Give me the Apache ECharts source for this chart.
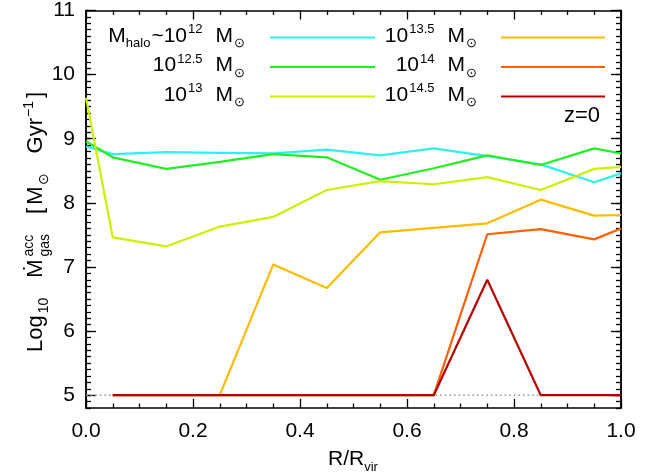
<!DOCTYPE html>
<html><head><meta charset="utf-8">
<script src="https://cdn.jsdelivr.net/npm/echarts@6/dist/echarts.min.js"></script>
<style>html,body{margin:0;padding:0;background:#fff}#c{width:660px;height:476px}</style>
</head><body><div id="c"></div>
<script>
// ---------------- data ----------------
const xValues = [0.0, 0.05, 0.15, 0.25, 0.35, 0.45, 0.55, 0.65, 0.75, 0.85, 0.95, 1.0];
const m12   = [8.88, 8.76, 8.79, 8.78, 8.77, 8.83, 8.74, 8.85, 8.73, 8.60, 8.32, 8.46];
const m12_5 = [8.96, 8.71, 8.53, 8.64, 8.76, 8.71, 8.36, 8.54, 8.74, 8.59, 8.85, 8.77];
const m13   = [9.64, 7.46, 7.32, 7.63, 7.78, 8.20, 8.34, 8.29, 8.40, 8.20, 8.53, 8.56];
const m13_5 = [null, 5, 5, 5, 7.04, 6.67, 7.54, 7.61, 7.68, 8.05, 7.80, 7.81];
const m14   = [null, 5, 5, 5, 5, 5, 5, 5, 7.51, 7.59, 7.43, 7.60];
const m14_5 = [null, 5, 5, 5, 5, 5, 5, 5, 6.80, 5, 5, 5];
const floorValue = 5;
const haloExps = ['12', '12.5', '13', '13.5', '14', '14.5'];
const seriesValues = [m12, m12_5, m13, m13_5, m14, m14_5];
const colors = ['#2ef0f0', '#22ee22', '#ccf000', '#ffbb00', '#ff6000', '#b80000'];
const xTickValues = [0, 0.2, 0.4, 0.6, 0.8, 1.0];
const yTickValues = [5, 6, 7, 8, 9, 10, 11];
const redshiftLabel = 'z=0';

// ---------------- text helpers ----------------
const FONT = '"Liberation Sans", Arial, sans-serif';
const cv = document.createElement('canvas').getContext('2d');
function tw(t, s) { cv.font = s + 'px ' + FONT; return cv.measureText(t).width; }
function richText(pieces, size, bx, by, align) {
  const ss = Math.round(size * 0.64);
  const items = []; let x = 0;
  for (const p of pieces) {
    const [t, k, t2] = p;
    if (k === 'n') { items.push({t, s: size, dx: x, b: 0}); x += tw(t, size); }
    else if (k === 'sup') { items.push({t, s: ss, dx: x, b: -0.42 * size}); x += tw(t, ss); }
    else if (k === 'sub') { items.push({t, s: ss, dx: x, b: 0.24 * size}); x += tw(t, ss); }
    else if (k === 'sp') { x += t; }
    else if (k === 'stack') {
      items.push({t, s: ss, dx: x, b: -0.45 * size});
      items.push({t: t2, s: ss, dx: x, b: 0.28 * size});
      x += Math.max(tw(t, ss), tw(t2, ss));
    }
  }
  const off = align === 'right' ? -x : align === 'center' ? -x / 2 : 0;
  return items.map(it => ({
    type: 'text', x: bx + off + it.dx, y: by + it.b - 0.31 * it.s, silent: true,
    style: {text: it.t, font: it.s + 'px ' + FONT, fill: '#000',
      align: 'left', verticalAlign: 'middle', textAlign: 'left', textVerticalAlign: 'middle'}
  }));
}

// ---------------- legend graphics ----------------
const graphics = [];
const legendRows = [37.5, 67, 96.5];
const colTextRight = [245, 477];
const colLine = [[270, 375], [501, 605]];
haloExps.forEach((e, i) => {
  const col = Math.floor(i / 3), row = i % 3;
  const y = legendRows[row];
  const pieces = [];
  if (i === 0) { pieces.push(['M', 'n'], ['halo', 'sub'], [1, 'sp'], ['~10', 'n']); }
  else pieces.push(['10', 'n']);
  pieces.push([1, 'sp'], [e, 'sup'], [13, 'sp'], ['M', 'n'], [1, 'sp'], ['\u2299', 'sub']);
  graphics.push(...richText(pieces, 21, colTextRight[col], y + 5, 'right'));
  graphics.push({type: 'line', silent: true,
    shape: {x1: colLine[col][0], y1: y, x2: colLine[col][1], y2: y},
    style: {stroke: colors[i], lineWidth: 2}});
});
// z=0
graphics.push({type: 'text', right: 60, top: 105, silent: true,
  style: {text: redshiftLabel, font: '22px ' + FONT, fill: '#000'}});
// x title
graphics.push(...richText([['R/R', 'n'], ['vir', 'sub']], 21, 353, 466, 'center'));
// y title (rotated)
graphics.push({type: 'group', x: 43, y: 222, rotation: Math.PI / 2, silent: true,
  children: richText([
    ['Log', 'n'], [2, 'sp'], ['10', 'sub'], [20, 'sp'], ['\u1E40', 'n'], [3, 'sp'], ['acc', 'stack', 'gas'], [20, 'sp'],
    ['[', 'n'], [3, 'sp'], ['M', 'n'], [1, 'sp'], ['\u2299', 'sub'], [20, 'sp'], ['Gyr', 'n'], [1, 'sp'], ['\u22121', 'sup'], [3, 'sp'], [']', 'n']
  ], 22, 0, 0, 'center')});

// ---------------- axes ----------------
const black = '#000';
const tickStyle = {color: black, width: 1.3};
function xAx(pos, labels) {
  return {type: 'value', min: 0, max: 1, interval: 0.2, position: pos,
    axisLine: {show: true, onZero: false, lineStyle: {color: black, width: 1.5}},
    axisTick: {show: true, inside: true, length: 9, lineStyle: tickStyle},
    minorTick: {show: true, splitNumber: 4, length: 4.5, lineStyle: tickStyle},
    splitLine: {show: false}, minorSplitLine: {show: false},
    axisLabel: {show: labels, customValues: xTickValues, formatter: v => Number(v).toFixed(1),
      color: black, fontSize: 21, fontFamily: FONT, margin: 13}};
}
function yAx(pos, major, labels) {
  const o = {type: 'value', min: 4.8, max: 11, position: pos,
    axisLine: {show: true, onZero: false, lineStyle: {color: black, width: 1.5}},
    splitLine: {show: false},
    axisLabel: {show: false}};
  if (major) {
    o.axisTick = {show: true, inside: true, length: 10, customValues: yTickValues, lineStyle: tickStyle};
    if (labels) o.axisLabel = {show: true, customValues: yTickValues, formatter: v => String(Math.round(v)),
      color: black, fontSize: 21, fontFamily: FONT, margin: 11};
  } else {
    o.interval = 0.1;
    o.axisTick = {show: true, inside: true, length: 5, lineStyle: tickStyle};
  }
  return o;
}

const series = [{
  type: 'line', name: 'floor', xAxisIndex: 0, yAxisIndex: 0, silent: true,
  data: [[0, floorValue], [1, floorValue]], symbol: 'none', z: 1,
  lineStyle: {color: '#999', width: 1.6, type: [1.6, 3]}
}];
seriesValues.forEach((arr, i) => {
  series.push({type: 'line', name: '10^' + haloExps[i], xAxisIndex: 0, yAxisIndex: 0,
    data: xValues.map((x, j) => [x, arr[j]]), symbol: 'none', showSymbol: false,
    connectNulls: false, z: 2 + i, animation: false,
    lineStyle: {color: colors[i], width: 2.2}});
});

const chart = echarts.init(document.getElementById('c'), null, {renderer: 'canvas'});
chart.setOption({
  animation: false,
  backgroundColor: '#fff',
  grid: {left: 86, right: 39, top: 8, bottom: 68, containLabel: false},
  xAxis: [xAx('bottom', true), xAx('top', false)],
  yAxis: [yAx('left', false), yAx('left', true, true), yAx('right', false), yAx('right', true, false)],
  series,
  graphic: graphics
});
</script></body></html>
